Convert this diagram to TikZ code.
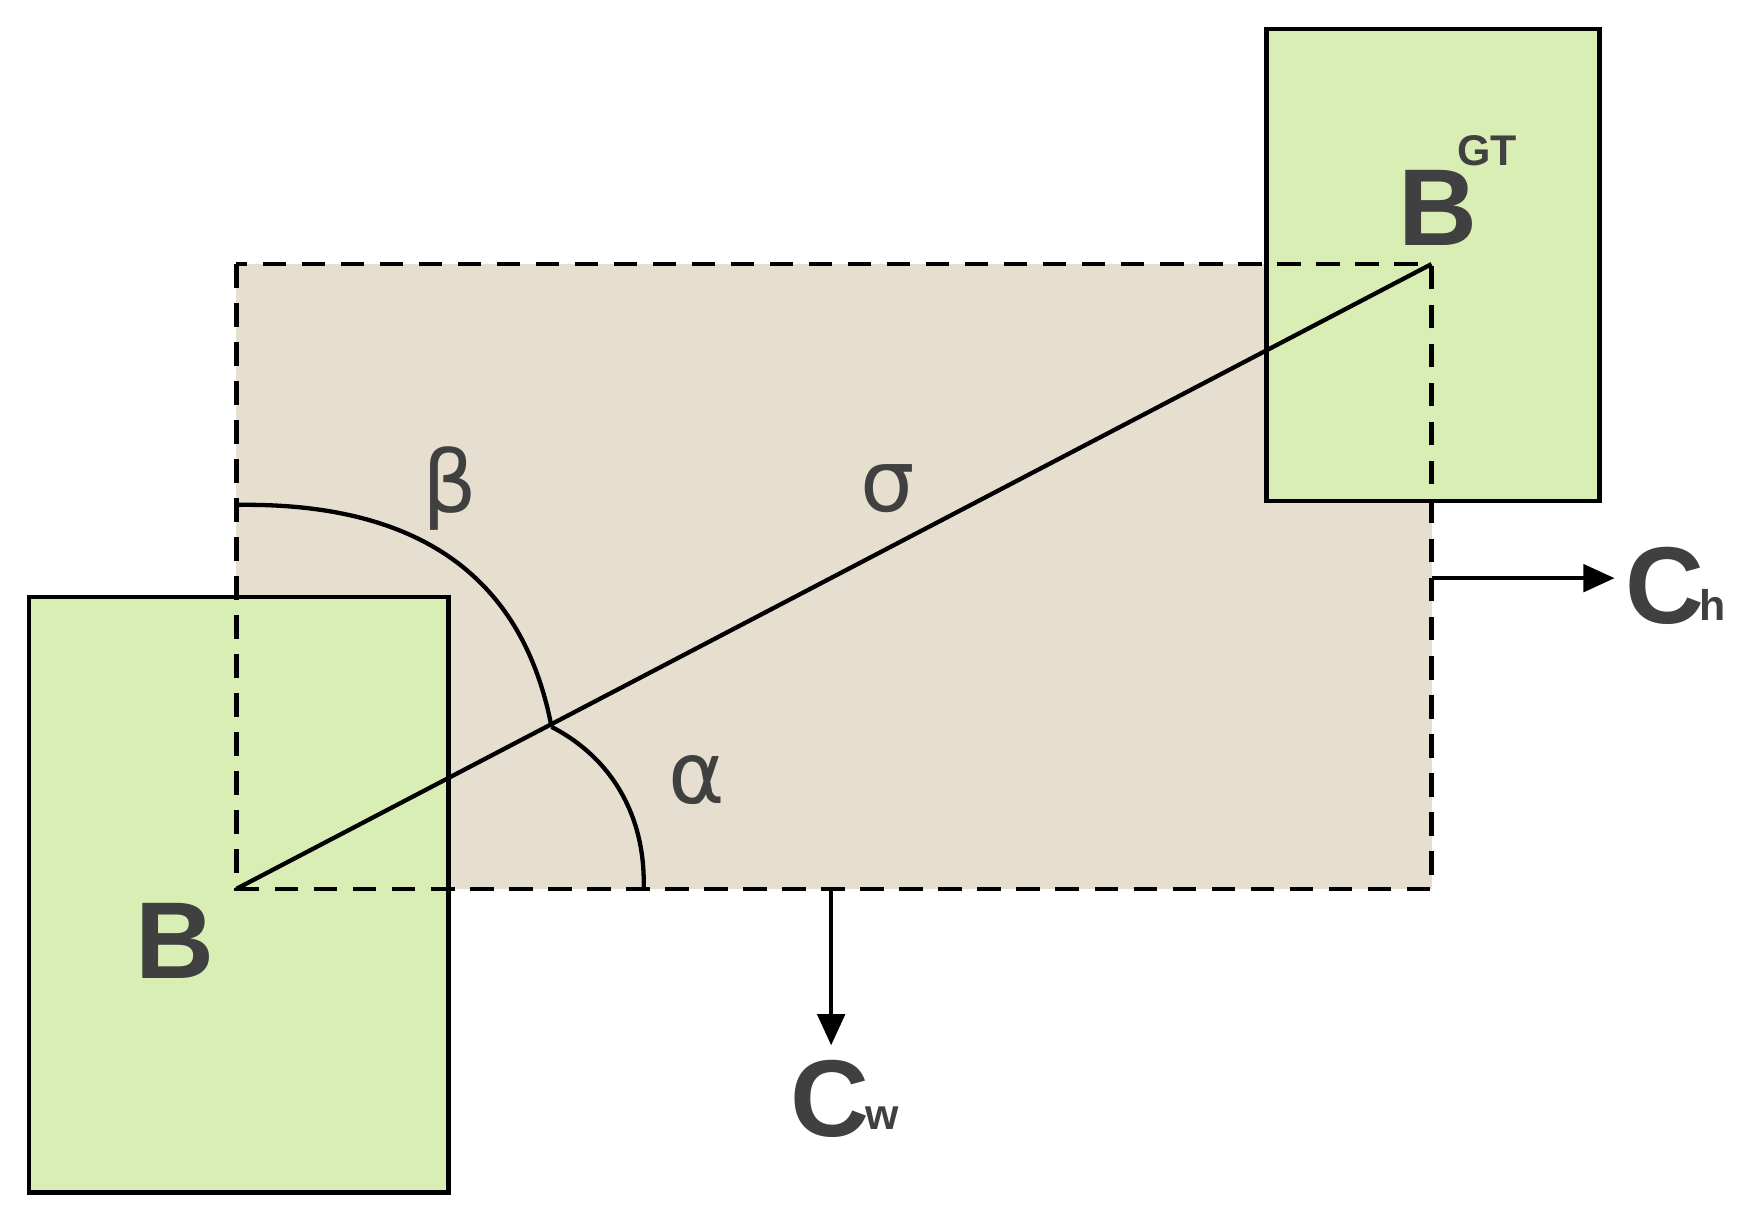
\documentclass[tikz,border=0pt]{standalone}
\usepackage{fontspec}
\setmainfont{Liberation Sans}
\newfontfamily\grk{DejaVu Sans}
\usetikzlibrary{arrows.meta}
\definecolor{gfill}{HTML}{D9EEB4}
\definecolor{bfill}{HTML}{E6DFCF}
\definecolor{tgray}{HTML}{404040}
\begin{document}
\begin{tikzpicture}[x=0.01cm,y=-0.01cm,
  grn/.style={fill=gfill,draw=black,line width=1.2pt,anchor=north west,inner sep=0},
  lbl/.style={text=tgray,font=\grk\fontsize{22}{24}\selectfont},
  big/.style={text=tgray,font=\bfseries\fontsize{28}{30}\selectfont},
  sml/.style={text=tgray,font=\bfseries\fontsize{11}{13}\selectfont,inner sep=0},
  arr/.style={-{Triangle[length=8pt,width=7pt]},line width=1.1pt}]
\useasboundingbox (0,0) rectangle (1568,1100);
\fill[bfill] (213,238) rectangle (1290,801);
\node (lg) [grn,minimum width=3.78cm,minimum height=5.36cm] at (24,536) {};
\node (rg) [grn,minimum width=3.0cm,minimum height=4.25cm] at (1139,24) {};
\draw[line width=1.1pt,dash pattern=on 6pt off 4pt] (213,238) rectangle (1290,801);
\coordinate (b) at (213,801);
\coordinate (gt) at (1290,238);
\coordinate (m) at (497,655);
\draw[line width=1.1pt] (b) -- (gt);
\draw[line width=1.1pt] (213,455) .. controls (400,452) and (475,540) .. (m);
\draw[line width=1.1pt] (m) .. controls (555,685) and (582,740) .. (580,801);
\coordinate (h0) at (1290,521);
\coordinate (w0) at (749,801);
\node (ch) [big,inner sep=0] at (1500,528) {C};
\node (chs) [sml] at (1543,545) {h};
\node (cw) [big,inner sep=0] at (748,990) {C};
\node (cws) [sml] at (795,1008) {w};
\draw[arr] (h0) -- (1455,521);
\draw[arr] (w0) -- (749,942);
\node (beta) [lbl] at (405,440) {β};
\node (sigma) [lbl] at (800,440) {σ};
\node (alpha) [lbl] at (628,703) {α};
\node (B) [big] at (158,848) {B};
\node (BGT) [big] at (1296,187) {B};
\node (GT) [sml] at (1340,136) {GT};
\end{tikzpicture}
\end{document}
